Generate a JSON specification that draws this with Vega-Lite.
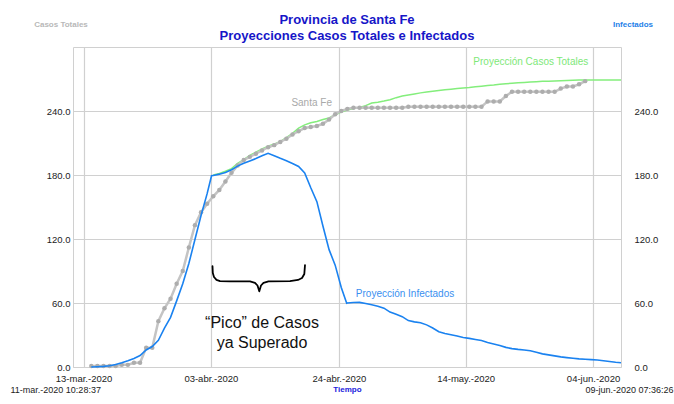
{
  "$schema": "https://vega.github.io/schema/vega-lite/v6.json",
  "width": 548,
  "height": 320,
  "autosize": {"type": "none"},
  "padding": {"left": 73, "top": 47, "right": 53, "bottom": 37},
  "background": "white",
  "config": {
    "font": "Liberation Sans",
    "view": {"stroke": "#d0d0d0", "strokeWidth": 1},
    "axis": {"labelFont": "Liberation Sans", "titleFont": "Liberation Sans"}
  },
  "title": {
    "text": ["Provincia de Santa Fe", "Proyecciones Casos Totales e Infectados"],
    "fontSize": 13,
    "fontWeight": "bold",
    "color": "#1616c8",
    "lineHeight": 16.5,
    "anchor": "middle",
    "offset": -23
  },
  "datasets": {
    "santafe": [
      {"fecha": "2020-03-14T10:28:37", "casos": 1},
      {"fecha": "2020-03-15T10:28:37", "casos": 1},
      {"fecha": "2020-03-16T10:28:37", "casos": 1},
      {"fecha": "2020-03-17T10:28:37", "casos": 1},
      {"fecha": "2020-03-18T10:28:37", "casos": 1},
      {"fecha": "2020-03-19T10:28:37", "casos": 2},
      {"fecha": "2020-03-20T10:28:37", "casos": 2},
      {"fecha": "2020-03-21T10:28:37", "casos": 4},
      {"fecha": "2020-03-22T10:28:37", "casos": 4},
      {"fecha": "2020-03-23T10:28:37", "casos": 18},
      {"fecha": "2020-03-24T10:28:37", "casos": 18},
      {"fecha": "2020-03-25T10:28:37", "casos": 43},
      {"fecha": "2020-03-26T10:28:37", "casos": 55},
      {"fecha": "2020-03-27T10:28:37", "casos": 64},
      {"fecha": "2020-03-28T10:28:37", "casos": 78},
      {"fecha": "2020-03-29T10:28:37", "casos": 90},
      {"fecha": "2020-03-30T10:28:37", "casos": 112},
      {"fecha": "2020-03-31T10:28:37", "casos": 133},
      {"fecha": "2020-04-01T10:28:37", "casos": 145},
      {"fecha": "2020-04-02T10:28:37", "casos": 153},
      {"fecha": "2020-04-03T10:28:37", "casos": 160},
      {"fecha": "2020-04-04T10:28:37", "casos": 166},
      {"fecha": "2020-04-05T10:28:37", "casos": 174},
      {"fecha": "2020-04-06T10:28:37", "casos": 182},
      {"fecha": "2020-04-07T10:28:37", "casos": 189},
      {"fecha": "2020-04-08T10:28:37", "casos": 194},
      {"fecha": "2020-04-09T10:28:37", "casos": 197},
      {"fecha": "2020-04-10T10:28:37", "casos": 200},
      {"fecha": "2020-04-11T10:28:37", "casos": 203},
      {"fecha": "2020-04-12T10:28:37", "casos": 206},
      {"fecha": "2020-04-13T10:28:37", "casos": 208},
      {"fecha": "2020-04-14T10:28:37", "casos": 211},
      {"fecha": "2020-04-15T10:28:37", "casos": 214},
      {"fecha": "2020-04-16T10:28:37", "casos": 218},
      {"fecha": "2020-04-17T10:28:37", "casos": 221},
      {"fecha": "2020-04-18T10:28:37", "casos": 224},
      {"fecha": "2020-04-19T10:28:37", "casos": 225},
      {"fecha": "2020-04-20T10:28:37", "casos": 226},
      {"fecha": "2020-04-21T10:28:37", "casos": 228},
      {"fecha": "2020-04-22T10:28:37", "casos": 232},
      {"fecha": "2020-04-23T10:28:37", "casos": 237},
      {"fecha": "2020-04-24T10:28:37", "casos": 240},
      {"fecha": "2020-04-25T10:28:37", "casos": 242},
      {"fecha": "2020-04-26T10:28:37", "casos": 243},
      {"fecha": "2020-04-27T10:28:37", "casos": 243},
      {"fecha": "2020-04-28T10:28:37", "casos": 243},
      {"fecha": "2020-04-29T10:28:37", "casos": 243},
      {"fecha": "2020-04-30T10:28:37", "casos": 243},
      {"fecha": "2020-05-01T10:28:37", "casos": 243},
      {"fecha": "2020-05-02T10:28:37", "casos": 243},
      {"fecha": "2020-05-03T10:28:37", "casos": 243},
      {"fecha": "2020-05-04T10:28:37", "casos": 243},
      {"fecha": "2020-05-05T10:28:37", "casos": 244},
      {"fecha": "2020-05-06T10:28:37", "casos": 244},
      {"fecha": "2020-05-07T10:28:37", "casos": 244},
      {"fecha": "2020-05-08T10:28:37", "casos": 244},
      {"fecha": "2020-05-09T10:28:37", "casos": 244},
      {"fecha": "2020-05-10T10:28:37", "casos": 244},
      {"fecha": "2020-05-11T10:28:37", "casos": 244},
      {"fecha": "2020-05-12T10:28:37", "casos": 244},
      {"fecha": "2020-05-13T10:28:37", "casos": 244},
      {"fecha": "2020-05-14T10:28:37", "casos": 244},
      {"fecha": "2020-05-15T10:28:37", "casos": 244},
      {"fecha": "2020-05-16T10:28:37", "casos": 244},
      {"fecha": "2020-05-17T10:28:37", "casos": 244},
      {"fecha": "2020-05-18T10:28:37", "casos": 249},
      {"fecha": "2020-05-19T10:28:37", "casos": 249},
      {"fecha": "2020-05-20T10:28:37", "casos": 249},
      {"fecha": "2020-05-21T10:28:37", "casos": 254},
      {"fecha": "2020-05-22T10:28:37", "casos": 258},
      {"fecha": "2020-05-23T10:28:37", "casos": 258},
      {"fecha": "2020-05-24T10:28:37", "casos": 258},
      {"fecha": "2020-05-25T10:28:37", "casos": 258},
      {"fecha": "2020-05-26T10:28:37", "casos": 258},
      {"fecha": "2020-05-27T10:28:37", "casos": 258},
      {"fecha": "2020-05-28T10:28:37", "casos": 258},
      {"fecha": "2020-05-29T10:28:37", "casos": 258},
      {"fecha": "2020-05-30T10:28:37", "casos": 261},
      {"fecha": "2020-05-31T10:28:37", "casos": 263},
      {"fecha": "2020-06-01T10:28:37", "casos": 263},
      {"fecha": "2020-06-02T10:28:37", "casos": 265},
      {"fecha": "2020-06-03T10:28:37", "casos": 268}
    ],
    "totales": [
      {"fecha": "2020-04-03T10:28:37", "casos": 180},
      {"fecha": "2020-04-04T10:28:37", "casos": 181.5},
      {"fecha": "2020-04-05T10:28:37", "casos": 183.5},
      {"fecha": "2020-04-06T10:28:37", "casos": 186},
      {"fecha": "2020-04-07T10:28:37", "casos": 191},
      {"fecha": "2020-04-08T10:28:37", "casos": 194.5},
      {"fecha": "2020-04-09T10:28:37", "casos": 198.5},
      {"fecha": "2020-04-10T10:28:37", "casos": 201.5},
      {"fecha": "2020-04-11T10:28:37", "casos": 204.5},
      {"fecha": "2020-04-12T10:28:37", "casos": 207},
      {"fecha": "2020-04-13T10:28:37", "casos": 209},
      {"fecha": "2020-04-14T10:28:37", "casos": 211.5},
      {"fecha": "2020-04-15T10:28:37", "casos": 215},
      {"fecha": "2020-04-16T10:28:37", "casos": 219},
      {"fecha": "2020-04-17T10:28:37", "casos": 224},
      {"fecha": "2020-04-18T10:28:37", "casos": 227},
      {"fecha": "2020-04-19T10:28:37", "casos": 229},
      {"fecha": "2020-04-20T10:28:37", "casos": 230.2},
      {"fecha": "2020-04-21T10:28:37", "casos": 232},
      {"fecha": "2020-04-22T10:28:37", "casos": 233.5},
      {"fecha": "2020-04-23T10:28:37", "casos": 236.5},
      {"fecha": "2020-04-24T10:28:37", "casos": 239},
      {"fecha": "2020-04-25T10:28:37", "casos": 241},
      {"fecha": "2020-04-26T10:28:37", "casos": 242.3},
      {"fecha": "2020-04-27T10:28:37", "casos": 243.3},
      {"fecha": "2020-04-28T10:28:37", "casos": 245},
      {"fecha": "2020-04-29T10:28:37", "casos": 247.5},
      {"fecha": "2020-04-30T10:28:37", "casos": 248.3},
      {"fecha": "2020-05-01T10:28:37", "casos": 249.3},
      {"fecha": "2020-05-02T10:28:37", "casos": 250.5},
      {"fecha": "2020-05-03T10:28:37", "casos": 252.5},
      {"fecha": "2020-05-04T10:28:37", "casos": 254},
      {"fecha": "2020-05-05T10:28:37", "casos": 255},
      {"fecha": "2020-05-06T10:28:37", "casos": 256},
      {"fecha": "2020-05-07T10:28:37", "casos": 257},
      {"fecha": "2020-05-08T10:28:37", "casos": 257.8},
      {"fecha": "2020-05-09T10:28:37", "casos": 258.5},
      {"fecha": "2020-05-10T10:28:37", "casos": 259.3},
      {"fecha": "2020-05-11T10:28:37", "casos": 260},
      {"fecha": "2020-05-12T10:28:37", "casos": 260.5},
      {"fecha": "2020-05-13T10:28:37", "casos": 261},
      {"fecha": "2020-05-14T10:28:37", "casos": 261.5},
      {"fecha": "2020-05-15T10:28:37", "casos": 262},
      {"fecha": "2020-05-16T10:28:37", "casos": 262.7},
      {"fecha": "2020-05-17T10:28:37", "casos": 263.3},
      {"fecha": "2020-05-18T10:28:37", "casos": 264},
      {"fecha": "2020-05-19T10:28:37", "casos": 264.4},
      {"fecha": "2020-05-20T10:28:37", "casos": 265},
      {"fecha": "2020-05-21T10:28:37", "casos": 265.5},
      {"fecha": "2020-05-22T10:28:37", "casos": 266},
      {"fecha": "2020-05-23T10:28:37", "casos": 266.5},
      {"fecha": "2020-05-24T10:28:37", "casos": 266.8},
      {"fecha": "2020-05-25T10:28:37", "casos": 267.2},
      {"fecha": "2020-05-26T10:28:37", "casos": 267.5},
      {"fecha": "2020-05-27T10:28:37", "casos": 267.8},
      {"fecha": "2020-05-28T10:28:37", "casos": 268},
      {"fecha": "2020-05-29T10:28:37", "casos": 268.2},
      {"fecha": "2020-05-30T10:28:37", "casos": 268.4},
      {"fecha": "2020-05-31T10:28:37", "casos": 268.6},
      {"fecha": "2020-06-01T10:28:37", "casos": 268.8},
      {"fecha": "2020-06-02T10:28:37", "casos": 269},
      {"fecha": "2020-06-03T10:28:37", "casos": 269},
      {"fecha": "2020-06-05T10:28:37", "casos": 269},
      {"fecha": "2020-06-07T10:28:37", "casos": 269},
      {"fecha": "2020-06-09T07:36:26", "casos": 269}
    ],
    "infectados": [
      {"fecha": "2020-03-14T10:28:37", "inf": 0},
      {"fecha": "2020-03-15T10:28:37", "inf": 0.3},
      {"fecha": "2020-03-16T10:28:37", "inf": 0.6},
      {"fecha": "2020-03-17T10:28:37", "inf": 1.1},
      {"fecha": "2020-03-18T10:28:37", "inf": 2.4},
      {"fecha": "2020-03-19T10:28:37", "inf": 4},
      {"fecha": "2020-03-20T10:28:37", "inf": 5.9},
      {"fecha": "2020-03-21T10:28:37", "inf": 8},
      {"fecha": "2020-03-22T10:28:37", "inf": 10.8},
      {"fecha": "2020-03-23T10:28:37", "inf": 16},
      {"fecha": "2020-03-24T10:28:37", "inf": 19.2},
      {"fecha": "2020-03-25T10:28:37", "inf": 25},
      {"fecha": "2020-03-26T10:28:37", "inf": 36.5},
      {"fecha": "2020-03-27T10:28:37", "inf": 46.5},
      {"fecha": "2020-03-28T10:28:37", "inf": 62},
      {"fecha": "2020-03-29T10:28:37", "inf": 78},
      {"fecha": "2020-03-30T10:28:37", "inf": 97},
      {"fecha": "2020-03-31T10:28:37", "inf": 119.5},
      {"fecha": "2020-04-01T10:28:37", "inf": 142},
      {"fecha": "2020-04-02T10:28:37", "inf": 162.5},
      {"fecha": "2020-04-03T03:45:00", "inf": 179.3},
      {"fecha": "2020-04-03T10:28:37", "inf": 179.6},
      {"fecha": "2020-04-04T10:28:37", "inf": 180.8},
      {"fecha": "2020-04-05T10:28:37", "inf": 182.4},
      {"fecha": "2020-04-06T10:28:37", "inf": 185},
      {"fecha": "2020-04-07T10:28:37", "inf": 188.3},
      {"fecha": "2020-04-08T10:28:37", "inf": 191},
      {"fecha": "2020-04-09T10:28:37", "inf": 193.2},
      {"fecha": "2020-04-10T10:28:37", "inf": 195.4},
      {"fecha": "2020-04-11T10:28:37", "inf": 198},
      {"fecha": "2020-04-12T10:28:37", "inf": 200.3},
      {"fecha": "2020-04-13T10:28:37", "inf": 198},
      {"fecha": "2020-04-14T10:28:37", "inf": 195.6},
      {"fecha": "2020-04-15T10:28:37", "inf": 193.4},
      {"fecha": "2020-04-16T10:28:37", "inf": 190.8},
      {"fecha": "2020-04-17T10:28:37", "inf": 188},
      {"fecha": "2020-04-18T10:28:37", "inf": 182},
      {"fecha": "2020-04-19T10:28:37", "inf": 168},
      {"fecha": "2020-04-20T10:28:37", "inf": 155},
      {"fecha": "2020-04-21T10:28:37", "inf": 132},
      {"fecha": "2020-04-22T10:28:37", "inf": 110},
      {"fecha": "2020-04-23T10:28:37", "inf": 95.5},
      {"fecha": "2020-04-24T10:28:37", "inf": 74.5},
      {"fecha": "2020-04-25T07:50:00", "inf": 59.8},
      {"fecha": "2020-04-25T10:28:37", "inf": 60},
      {"fecha": "2020-04-26T10:28:37", "inf": 60.4},
      {"fecha": "2020-04-27T10:28:37", "inf": 60.6},
      {"fecha": "2020-04-28T10:28:37", "inf": 59.5},
      {"fecha": "2020-04-29T10:28:37", "inf": 58.3},
      {"fecha": "2020-04-30T10:28:37", "inf": 57},
      {"fecha": "2020-05-01T10:28:37", "inf": 55.2},
      {"fecha": "2020-05-02T10:28:37", "inf": 51.5},
      {"fecha": "2020-05-03T10:28:37", "inf": 49.5},
      {"fecha": "2020-05-04T10:28:37", "inf": 47.2},
      {"fecha": "2020-05-05T10:28:37", "inf": 43.5},
      {"fecha": "2020-05-06T10:28:37", "inf": 42.3},
      {"fecha": "2020-05-07T10:28:37", "inf": 41.5},
      {"fecha": "2020-05-08T10:28:37", "inf": 39.5},
      {"fecha": "2020-05-09T10:28:37", "inf": 36.6},
      {"fecha": "2020-05-10T10:28:37", "inf": 33},
      {"fecha": "2020-05-11T10:28:37", "inf": 31.4},
      {"fecha": "2020-05-12T10:28:37", "inf": 30.2},
      {"fecha": "2020-05-13T10:28:37", "inf": 29},
      {"fecha": "2020-05-14T10:28:37", "inf": 27.6},
      {"fecha": "2020-05-15T10:28:37", "inf": 26.8},
      {"fecha": "2020-05-16T10:28:37", "inf": 25.8},
      {"fecha": "2020-05-17T10:28:37", "inf": 24.8},
      {"fecha": "2020-05-18T10:28:37", "inf": 23},
      {"fecha": "2020-05-19T10:28:37", "inf": 21.6},
      {"fecha": "2020-05-20T10:28:37", "inf": 20.1},
      {"fecha": "2020-05-21T10:28:37", "inf": 18.4},
      {"fecha": "2020-05-22T10:28:37", "inf": 17.2},
      {"fecha": "2020-05-23T10:28:37", "inf": 16.5},
      {"fecha": "2020-05-24T10:28:37", "inf": 16},
      {"fecha": "2020-05-25T10:28:37", "inf": 15.2},
      {"fecha": "2020-05-26T10:28:37", "inf": 13.8},
      {"fecha": "2020-05-27T10:28:37", "inf": 12.3},
      {"fecha": "2020-05-28T10:28:37", "inf": 11.4},
      {"fecha": "2020-05-29T10:28:37", "inf": 10.4},
      {"fecha": "2020-05-30T10:28:37", "inf": 9.5},
      {"fecha": "2020-05-31T10:28:37", "inf": 8.8},
      {"fecha": "2020-06-01T10:28:37", "inf": 8.2},
      {"fecha": "2020-06-02T10:28:37", "inf": 7.6},
      {"fecha": "2020-06-03T10:28:37", "inf": 7.2},
      {"fecha": "2020-06-04T10:28:37", "inf": 6.9},
      {"fecha": "2020-06-05T10:28:37", "inf": 6.5},
      {"fecha": "2020-06-06T10:28:37", "inf": 5.8},
      {"fecha": "2020-06-07T10:28:37", "inf": 5.1},
      {"fecha": "2020-06-08T10:28:37", "inf": 4.4},
      {"fecha": "2020-06-09T07:36:26", "inf": 4}
    ],
    "llave": [
      {"fecha": "2020-04-03T07:36:00", "y": 94.5},
      {"fecha": "2020-04-03T08:47:00", "y": 88.1},
      {"fecha": "2020-04-03T13:30:00", "y": 84.4},
      {"fecha": "2020-04-03T23:20:00", "y": 81.75},
      {"fecha": "2020-04-04T13:07:00", "y": 80.6},
      {"fecha": "2020-04-06T04:30:00", "y": 80.3},
      {"fecha": "2020-04-09T11:13:00", "y": 80.2},
      {"fecha": "2020-04-10T06:54:00", "y": 78.9},
      {"fecha": "2020-04-10T16:44:00", "y": 76.4},
      {"fecha": "2020-04-10T23:48:00", "y": 71.0},
      {"fecha": "2020-04-11T06:30:00", "y": 76.4},
      {"fecha": "2020-04-11T16:21:00", "y": 78.9},
      {"fecha": "2020-04-12T12:00:00", "y": 80.2},
      {"fecha": "2020-04-16T00:42:00", "y": 80.6},
      {"fecha": "2020-04-17T08:12:00", "y": 81.6},
      {"fecha": "2020-04-17T23:54:00", "y": 83.4},
      {"fecha": "2020-04-18T09:00:00", "y": 87.2},
      {"fecha": "2020-04-18T11:42:00", "y": 95.5}
    ],
    "etiquetas": [
      {"fecha": "2020-04-19T14:00:00", "y": 247.5, "texto": "Santa Fe"},
      {"fecha": "2020-05-25T12:30:00", "y": 286, "texto": "Proyección Casos Totales"},
      {"fecha": "2020-05-04T21:25:00", "y": 68, "texto": "Proyección Infectados"}
    ],
    "nota": [
      {"fecha": "2020-04-11T10:25:00", "y": 41.25, "texto": "“Pico” de Casos\nya Superado"}
    ]
  },
  "layer": [
    {
      "data": {"name": "totales"},
      "mark": {"type": "line", "color": "#84ee7c", "strokeWidth": 1.5},
      "encoding": {
        "x": {"field": "fecha", "type": "temporal", "axis": null},
        "y": {"field": "casos", "type": "quantitative", "axis": null}
      }
    },
    {
      "data": {"name": "santafe"},
      "mark": {"type": "line", "color": "#c4c4c4", "strokeWidth": 2.5, "point": {"filled": true, "color": "#adadad", "size": 20}},
      "encoding": {
        "x": {
          "field": "fecha", "type": "temporal",
          "scale": {"domain": [{"year": 2020, "month": 3, "date": 11, "hours": 10, "minutes": 28, "seconds": 37}, {"year": 2020, "month": 6, "date": 9, "hours": 7, "minutes": 36, "seconds": 26}], "nice": false},
          "axis": {
            "orient": "bottom",
            "values": [
              {"year": 2020, "month": 3, "date": 13, "hours": 4},
              {"year": 2020, "month": 4, "date": 3, "hours": 1},
              {"year": 2020, "month": 4, "date": 24, "hours": 1},
              {"year": 2020, "month": 5, "date": 14, "hours": 20},
              {"year": 2020, "month": 6, "date": 4, "hours": 17, "minutes": 30}
            ],
            "labelExpr": "timeFormat(datum.value, '%d') + '-' + ['ene','feb','mar','abr','may','jun','jul'][month(datum.value)] + '.-' + timeFormat(datum.value, '%Y')",
            "grid": true, "gridColor": "#d0d0d0", "gridWidth": 1.2,
            "ticks": false, "domain": false,
            "labelFontSize": 9.5, "labelColor": "#222222", "labelPadding": 6,
            "title": "Tiempo", "titleColor": "#2222dd", "titleFontSize": 8, "titleFontWeight": "bold", "titlePadding": 3
          }
        },
        "y": {
          "field": "casos", "type": "quantitative",
          "scale": {"domain": [0, 300], "nice": false},
          "axis": {
            "orient": "left", "values": [0, 60, 120, 180, 240], "format": ".1f",
            "grid": true, "gridColor": "#d0d0d0", "gridWidth": 1.2,
            "ticks": false, "domain": false,
            "labelFontSize": 9.5, "labelColor": "#222222", "labelPadding": 3,
            "title": "Casos Totales", "titleAngle": 0, "titleAlign": "center", "titleBaseline": "middle",
            "titleX": -12.5, "titleY": -23, "titleColor": "#b8b8b8", "titleFontSize": 8, "titleFontWeight": "bold"
          }
        }
      }
    },
    {
      "data": {"name": "infectados"},
      "mark": {"type": "line", "color": "#1a82f0", "strokeWidth": 1.6},
      "encoding": {
        "x": {
          "field": "fecha", "type": "temporal",
          "axis": {
            "orient": "bottom",
            "values": [
              {"year": 2020, "month": 3, "date": 11, "hours": 10, "minutes": 28, "seconds": 37},
              {"year": 2020, "month": 6, "date": 9, "hours": 7, "minutes": 36, "seconds": 26}
            ],
            "labelExpr": "timeFormat(datum.value, '%d') + '-' + ['ene','feb','mar','abr','may','jun','jul'][month(datum.value)] + '.-' + timeFormat(datum.value, '%Y %H:%M:%S')",
            "labelAlign": {"condition": {"test": "datum.value < datetime(2020, 3, 1)", "value": "left"}, "value": "right"},
            "labelOffset": {"condition": {"test": "datum.value < datetime(2020, 3, 1)", "value": -63}, "value": 52},
            "grid": false, "ticks": false, "domain": false,
            "labelFontSize": 9, "labelColor": "#222222", "labelPadding": 18,
            "title": null
          }
        },
        "y": {
          "field": "inf", "type": "quantitative",
          "axis": {
            "orient": "right", "values": [0, 60, 120, 180, 240], "format": ".1f",
            "grid": false, "ticks": false, "domain": false,
            "labelFontSize": 9.5, "labelColor": "#222222", "labelPadding": 13,
            "title": "Infectados", "titleAngle": 0, "titleAlign": "center", "titleBaseline": "middle",
            "titleX": 11.5, "titleY": -23, "titleColor": "#1f7fe8", "titleFontSize": 8, "titleFontWeight": "bold"
          }
        }
      }
    },
    {
      "data": {"name": "llave"},
      "mark": {"type": "line", "color": "#000000", "strokeWidth": 1.8, "strokeCap": "round", "strokeJoin": "round"},
      "encoding": {
        "x": {"field": "fecha", "type": "temporal", "axis": null},
        "y": {"field": "y", "type": "quantitative", "axis": null}
      }
    },
    {
      "data": {"name": "etiquetas"},
      "mark": {"type": "text", "fontSize": 10, "align": "center", "baseline": "middle"},
      "encoding": {
        "x": {"field": "fecha", "type": "temporal", "axis": null},
        "y": {"field": "y", "type": "quantitative", "axis": null},
        "text": {"field": "texto"},
        "color": {"field": "texto", "type": "nominal", "legend": null,
          "scale": {"domain": ["Santa Fe", "Proyección Casos Totales", "Proyección Infectados"], "range": ["#a9a9a9", "#7ee878", "#3a8ff0"]}}
      }
    },
    {
      "data": {"name": "nota"},
      "mark": {"type": "text", "fontSize": 16, "align": "center", "baseline": "middle", "lineBreak": "\n", "lineHeight": 19.5, "color": "#111111"},
      "encoding": {
        "x": {"field": "fecha", "type": "temporal", "axis": null},
        "y": {"field": "y", "type": "quantitative", "axis": null},
        "text": {"field": "texto"}
      }
    }
  ],
  "resolve": {"axis": {"x": "independent", "y": "independent"}}
}
